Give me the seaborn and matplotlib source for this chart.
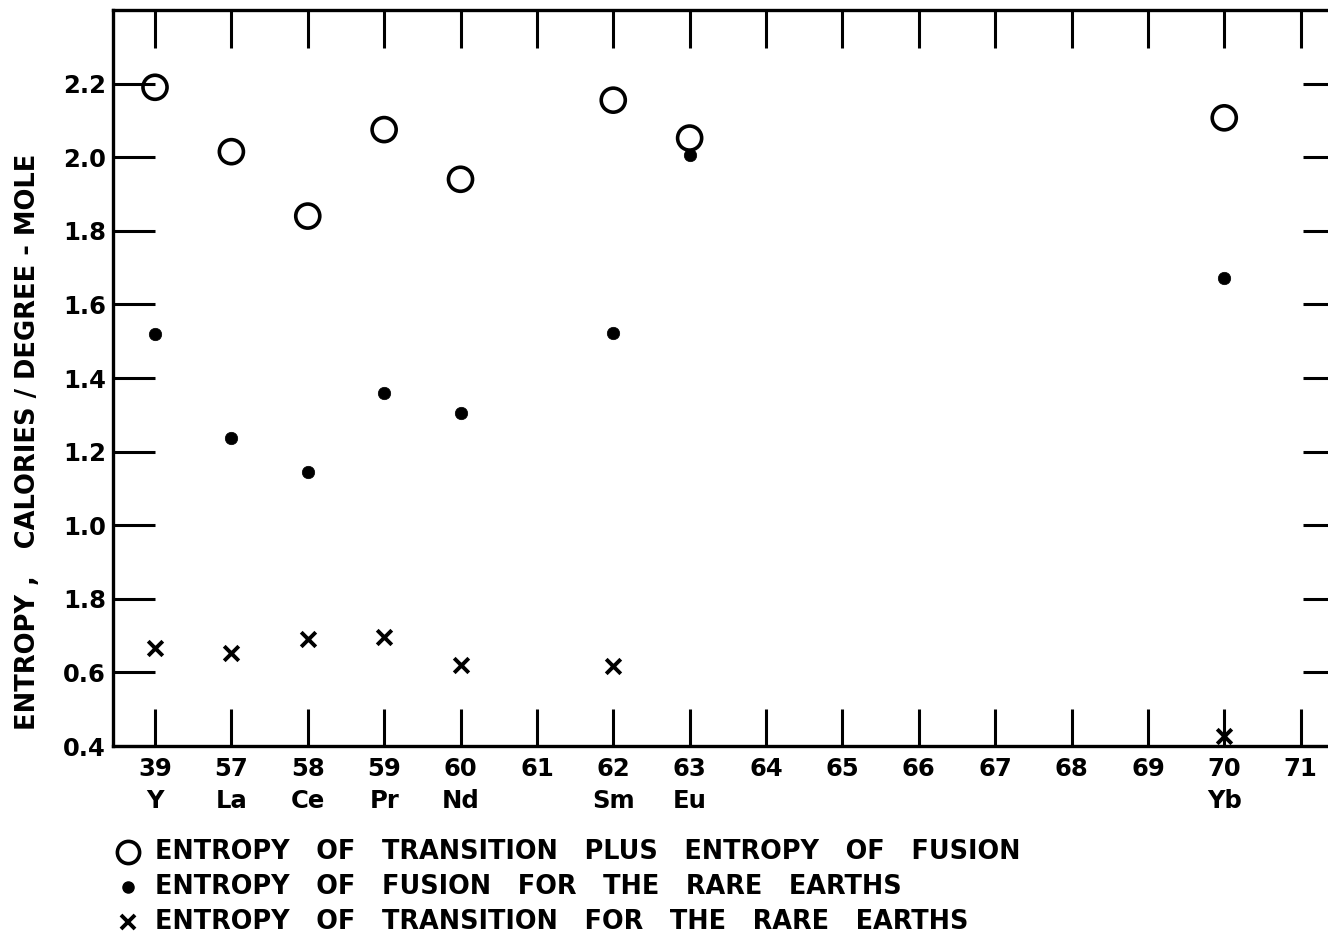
import matplotlib
matplotlib.use("Agg")
import matplotlib.pyplot as plt
from matplotlib.lines import Line2D
import seaborn as sns
import numpy as np

# ---- data ----
atomic_numbers = ["39", "57", "58", "59", "60", "61", "62", "63", "64", "65",
                  "66", "67", "68", "69", "70", "71"]
element_symbols = ["Y", "La", "Ce", "Pr", "Nd", "", "Sm", "Eu", "", "",
                   "", "", "", "", "Yb", ""]

total_elements = ["39", "57", "58", "59", "60", "62", "63", "70"]
total_entropy = [2.19, 2.015, 1.84, 2.075, 1.94, 2.155, 2.052, 2.107]

fusion_elements = ["39", "57", "58", "59", "60", "62", "63", "70"]
fusion_entropy = [1.52, 1.237, 1.145, 1.358, 1.305, 1.522, 2.007, 1.673]

transition_elements = ["39", "57", "58", "59", "60", "62", "70"]
transition_entropy = [0.666, 0.653, 0.69, 0.696, 0.62, 0.618, 0.427]

y_ticks = [0.4, 0.6, 0.8, 1.0, 1.2, 1.4, 1.6, 1.8, 2.0, 2.2]
y_tick_labels = ["0.4", "0.6", "1.8", "1.0", "1.2", "1.4", "1.6", "1.8", "2.0", "2.2"]

legend_labels = [
    "ENTROPY   OF   TRANSITION   PLUS   ENTROPY   OF   FUSION",
    "ENTROPY   OF   FUSION   FOR   THE   RARE   EARTHS",
    "ENTROPY   OF   TRANSITION   FOR   THE   RARE   EARTHS",
]
y_label = "ENTROPY ,   CALORIES / DEGREE - MOLE"

# ---- style ----
sns.set_theme(style="white")
plt.rcParams["font.family"] = ["DejaVu Sans"]
plt.rcParams["font.weight"] = "bold"
plt.rcParams["text.color"] = "black"
plt.rcParams["xtick.color"] = "black"
plt.rcParams["ytick.color"] = "black"

W, H = 1328, 939
fig = plt.figure(figsize=(W / 100, H / 100), dpi=100)
ax = fig.add_axes([113 / W, (H - 746) / H, 1222 / W, 736 / H])

pos = {z: i for i, z in enumerate(atomic_numbers)}

sns.scatterplot(x=[pos[z] for z in total_elements], y=total_entropy, ax=ax,
                marker="o", s=300, facecolor="none", edgecolor="black",
                linewidth=2.6, zorder=3)
ax.collections[-1].set_facecolor("none")
sns.scatterplot(x=[pos[z] for z in fusion_elements], y=fusion_entropy, ax=ax,
                marker="o", s=80, color="black", edgecolor="black",
                linewidth=0.5, zorder=4)
sns.scatterplot(x=[pos[z] for z in transition_elements], y=transition_entropy,
                ax=ax, marker="x", s=110, color="black", linewidth=2.8, zorder=4)

ax.set_xlim(-0.55, 15.45)
ax.set_ylim(0.4, 2.4)

ax.set_xticks(range(len(atomic_numbers)))
ax.set_xticklabels([f"{n}\n{s}" for n, s in zip(atomic_numbers, element_symbols)],
                   fontsize=17.5, fontweight="bold", linespacing=1.4,
                   color="black")
ax.set_yticks(y_ticks)
ax.set_yticklabels(y_tick_labels, fontsize=17.5, fontweight="bold",
                   color="black")

for sp in ax.spines.values():
    sp.set_linewidth(2.4)
    sp.set_color("black")

ax.tick_params(axis="x", which="major", direction="in", length=27, width=2.2,
               top=True, bottom=True, pad=8, colors="black")
ax.tick_params(axis="y", which="major", direction="in", length=30, width=2.2,
               left=True, right=False, pad=5, colors="black")

# right-side inward ticks (shorter)
sec = ax.secondary_yaxis("right")
sec.set_yticks(y_ticks)
sec.set_yticklabels([])
sec.tick_params(direction="in", length=23, width=2.2, colors="black")
sec.spines["right"].set_linewidth(2.4)

ax.set_xlabel("")
ax.set_ylabel("")
fig.text(28 / W, 1 - 442 / H, y_label, rotation=90, ha="center", va="center",
         fontsize=18.5, fontweight="bold", color="black")

# legend below the plot
legend_markers = [
    dict(marker="o", markersize=16, markerfacecolor="none",
         markeredgecolor="black", markeredgewidth=2.6),
    dict(marker="o", markersize=8, markerfacecolor="black",
         markeredgecolor="black"),
    dict(marker="x", markersize=10, markeredgecolor="black",
         markeredgewidth=2.8),
]
for i, (lab, mk) in enumerate(zip(legend_labels, legend_markers)):
    yy = 1 - (852 + 35 * i) / H
    fig.add_artist(Line2D([128 / W], [yy], transform=fig.transFigure,
                          linestyle="none", **mk))
    fig.text(155 / W, yy, lab, ha="left", va="center", fontsize=18.4,
             fontweight="bold", color="black")

fig.savefig("out.png", dpi=100)
